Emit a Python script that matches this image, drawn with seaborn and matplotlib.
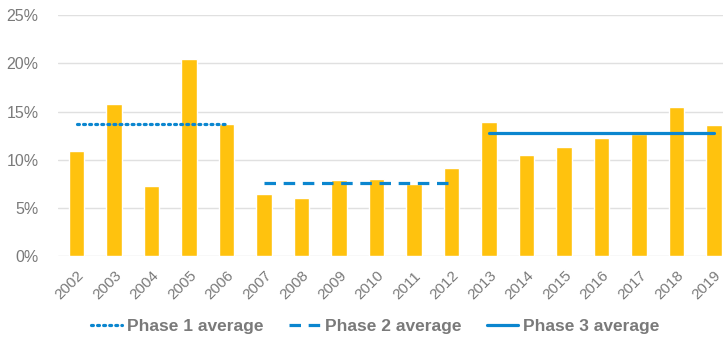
import matplotlib
matplotlib.use("Agg")
import matplotlib.pyplot as plt
import seaborn as sns

# Data (percent)
years = [str(y) for y in range(2002, 2020)]
values = [10.9, 15.8, 7.3, 20.5, 13.7, 6.4, 6.0, 7.9, 8.0, 7.5, 9.1,
          13.9, 10.5, 11.3, 12.3, 12.7, 15.5, 13.6]

phase_names = ['Phase 1 average', 'Phase 2 average', 'Phase 3 average']
phase_start = ['2002', '2007', '2013']
phase_end = ['2006', '2012', '2019']
phase_avg = [13.7, 7.6, 12.8]

sns.set_style('white')
plt.rcParams['font.family'] = ['Liberation Sans', 'DejaVu Sans']

fig = plt.figure(figsize=(7.23, 3.37), dpi=100)
ax = fig.add_axes([0.080, 0.240, 0.920, 0.715])

sns.barplot(x=years, y=values, color='#FFC20E', saturation=1, width=0.42, ax=ax)

# phase average lines
styles = [(0, (0.6, 1.3)), (0, (3.6, 2.4)), '-']
caps = ['round', 'butt', 'butt']
for name, s, e, avg, ls, cap in zip(phase_names, phase_start, phase_end, phase_avg, styles, caps):
    x0, x1 = years.index(s), years.index(e)
    ax.plot([x0, x1], [avg, avg], color='#0B86CF', lw=2.3, linestyle=ls,
            dash_capstyle=cap, label=name, zorder=3)

ax.set_ylim(0, 25)
ax.set_xlim(-0.5, 17.24)
ax.set_yticks(range(0, 26, 5))
ax.set_yticklabels([f'{t}%' for t in range(0, 26, 5)])
ax.yaxis.grid(True, color='#e0e0e0', lw=1)
ax.set_axisbelow(True)
for sp in ax.spines.values():
    sp.set_visible(False)
ax.tick_params(axis='y', length=0, pad=14, labelsize=11.5, labelcolor='#7a7a7a')
ax.tick_params(axis='x', length=0, pad=9, labelsize=11, labelcolor='#7a7a7a')
for lab in ax.get_xticklabels():
    lab.set_rotation(45)
    lab.set_ha('right')
    lab.set_rotation_mode('anchor')
ax.set_xlabel('')
ax.set_ylabel('')

leg = fig.legend(loc='center', bbox_to_anchor=(0.519, 0.032), ncol=3, frameon=False,
                 handlelength=1.75, columnspacing=1.5, handletextpad=0.3,
                 prop={'size': 12.5, 'weight': 'bold'})
for t in leg.get_texts():
    t.set_color('#7a7a7a')

fig.savefig('out.png', dpi=100)
